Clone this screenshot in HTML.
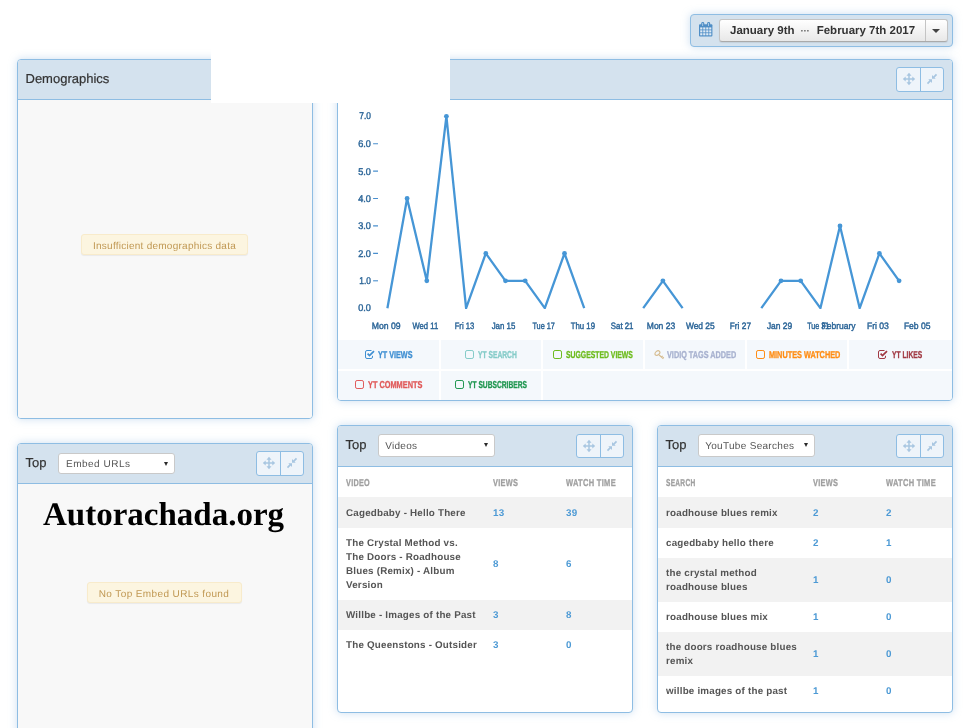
<!DOCTYPE html>
<html lang="en">
<head>
<meta charset="utf-8">
<title>Analytics Dashboard</title>
<style>
*{box-sizing:border-box;margin:0;padding:0}
html,body{width:972px;height:728px;overflow:hidden;background:#fff}
body{position:relative;text-rendering:geometricPrecision;font-family:"Liberation Sans",Arial,sans-serif;color:#333}
.panel{position:absolute;border:1px solid #8ebde3;border-radius:4px;background:#fff;box-shadow:0 0 9px rgba(120,170,215,.38)}
.panel .hd{position:absolute;left:0;top:0;right:0;height:40px;background:#d4e2ee;border-bottom:1px solid #8ebde3;border-radius:3px 3px 0 0}
.panel .bd{position:absolute;left:0;right:0;top:40px;bottom:0;border-radius:0 0 3px 3px;overflow:hidden}
.grey{background:#f8f8f8}
.title{position:absolute;left:7.500px;top:11px;-webkit-text-stroke:.2px;font-size:13px;line-height:16px;color:#333}
.sel{position:absolute;top:9px;height:21px;margin-left:-1px;background:#fff;border:1px solid #c9c9c9;border-radius:3px;font-size:10px;line-height:20px;padding:.5px 0 0 6.200px;color:#555;letter-spacing:.3px;white-space:nowrap}
.sel i{position:absolute;right:6.500px;top:7.500px;width:0;height:0;border-left:2.300px solid transparent;border-right:2.300px solid transparent;border-top:4.400px solid #2a2a2a}
.btns{position:absolute;right:8px;top:7px;width:48px;height:25px;border:1px solid #8ebde3;border-radius:3px;background:#eef4fa}
.btns:before{content:"";position:absolute;left:23px;top:0;bottom:0;width:1px;background:#8ebde3}
.btns svg{position:absolute;top:0;left:0}
.badge{position:absolute;height:21px;border:1px solid #f8ebcb;border-radius:3px;background:#fcf5e0;color:#c09853;font-size:10px;line-height:19px;padding-top:2px;text-align:center;letter-spacing:.25px;white-space:nowrap;box-shadow:0 1px 1px rgba(0,0,0,.06)}

.dbtn{position:absolute;left:28px;top:4px;width:229px;height:23px;border:1px solid #c4c4c4;border-bottom-color:#aaa;border-radius:3px;background:linear-gradient(#fff,#e8e8e8);font-weight:bold;font-size:11.5px;line-height:23px;color:#333;white-space:nowrap;box-shadow:0 1px 1px rgba(0,0,0,.08)}
.dbtn span{position:absolute;top:0}
.dbtn .d1{left:10px}
.dbtn .dots{left:80.500px;color:#666;font-size:10px;letter-spacing:-.3px}
.dbtn .d2{left:96.700px}
.dbtn .caretbox{right:0;top:0;width:22px;height:21px;border-left:1px solid #c4c4c4}
.dbtn .caretbox i{position:absolute;left:6px;top:8.500px;border:4.500px solid transparent;border-top:4.500px solid #444;border-bottom:0}

.panel .hd.tall{height:41px}
.hd.tall .btns{top:8px;height:24px}
.hd.tall .sel{top:8.300px;height:22.300px;padding-top:1.500px}
.hd.tall .sel i{top:8px}
.panel .bd.tall{top:41px}
.legend{position:absolute;left:0;top:240px;width:614px;height:60px;background:#f4f8fc}
.legend:before{content:"";position:absolute;left:0;right:0;top:29px;height:2px;background:#fff}
.legend .vs{position:absolute;width:2px;background:#fff;top:0}
.lg{position:absolute;font-size:10px;-webkit-text-stroke:.33px;line-height:12px;font-weight:bold;white-space:nowrap;transform-origin:0 50%;text-rendering:geometricPrecision}
.legend svg,.legend .lg{margin-top:-240px}
.tbl{position:absolute;left:0;top:0;right:0;font-size:9.800px;font-weight:bold;line-height:14px;letter-spacing:.21px;color:#555}
.tr{display:flex;height:30px}
.tr.odd{background:#f2f2f2}
.tr>div{padding:10px 0 0 8px;white-space:nowrap}
.tr .c1{width:147px}
.tr .c2{width:73px;color:#4d9ad5;align-self:center;padding-top:4px}
.tr .c3{width:74px;color:#4d9ad5;align-self:center;padding-top:4px}
.tr.th .c2,.tr.th .c3{color:#9f9f9f;align-self:auto;padding-top:10px}
.tr.f>.c1{padding-top:9.5px}
.tr.f>.c2,.tr.f>.c3{padding-top:3px}
.tr.g>.c1{padding-top:9px}
.tr.g>.c2,.tr.g>.c3{padding-top:2px}
.tr.th{color:#9f9f9f}
.cn{display:inline-block;-webkit-text-stroke:.3px;transform-origin:0 50%;letter-spacing:.4px;font-size:10px}
.wm{position:absolute;left:25px;top:11px;font-family:"Liberation Serif",serif;font-weight:bold;font-size:33px;line-height:40px;color:#000;white-space:nowrap}
</style>
</head>
<body>

<!-- date range bar -->
<div class="panel" id="datebar" style="left:690px;top:14px;width:263px;height:33px;background:#d4e2ee">
  <svg class="cal" width="14" height="15" viewBox="0 0 14 15" style="position:absolute;left:8px;top:7px"><g fill="#4f8ec6"><rect x="0" y="2.200" width="13.400" height="12.300" rx="1"/><rect x="2.300" y="0" width="2.900" height="4.600" rx="1.200"/><rect x="8.200" y="0" width="2.900" height="4.600" rx="1.200"/></g><g fill="#cfdfee"><rect x="3.400" y="1" width=".7" height="3"/><rect x="9.300" y="1" width=".7" height="3"/></g><g fill="#dfeaf4"><rect x="1.200" y="5.400" width="2.200" height="2.100"/><rect x="4.200" y="5.400" width="2.200" height="2.100"/><rect x="7.200" y="5.400" width="2.200" height="2.100"/><rect x="10.200" y="5.400" width="2.100" height="2.100"/><rect x="1.200" y="8.300" width="2.200" height="2.100"/><rect x="4.200" y="8.300" width="2.200" height="2.100"/><rect x="7.200" y="8.300" width="2.200" height="2.100"/><rect x="10.200" y="8.300" width="2.100" height="2.100"/><rect x="1.200" y="11.200" width="2.200" height="2.100"/><rect x="4.200" y="11.200" width="2.200" height="2.100"/><rect x="7.200" y="11.200" width="2.200" height="2.100"/><rect x="10.200" y="11.200" width="2.100" height="2.100"/></g></svg>
  <div class="dbtn"><span class="d1">January 9th</span><span class="dots">&middot;&middot;&middot;</span><span class="d2">February 7th 2017</span><span class="caretbox"><i></i></span></div>
</div>

<!-- Demographics -->
<div class="panel" id="demo" style="left:17px;top:59px;width:296px;height:360px">
  <div class="hd"><div class="title">Demographics</div></div>
  <div class="bd grey">
    <div class="badge" style="left:63px;top:134px;width:167px">Insufficient demographics data</div>
  </div>
</div>

<!-- Chart -->
<div class="panel" id="chart" style="left:337px;top:59px;width:616px;height:342px">
  <div class="hd"><div class="btns"><svg width="46" height="23" viewBox="0 0 46 23"><g fill="#a8c6e1" stroke="none"><rect x="11.25" y="6.5" width="1.5" height="9"/><rect x="7.5" y="10.25" width="9" height="1.5"/><path d="M12 4.8l2.5 2.9h-5zM12 17.2l2.500-2.900h-5zM5.800 11l2.900-2.500v5zM18.200 11l-2.900-2.500v5z"/><path d="M35 10.700V7.100l3.700 3.600zM35 11.300v3.600l-3.700-3.600z" transform="translate(0,0)"/></g><g stroke="#a8c6e1" stroke-width="1.700" fill="none"><path d="M36.600 9.300l2.900-2.900M33.400 12.700l-2.900 2.900"/></g></svg></div></div>
  <div class="bd">
<svg width="614" height="240" viewBox="0 0 614 240" style="position:absolute;left:0;top:0">
<defs><clipPath id="cp"><rect x="0" y="0" width="614" height="209.1"/></clipPath></defs>
<g font-family="Liberation Sans, Arial, sans-serif" font-size="9.800" fill="#2b6598" stroke="#2b6598" stroke-width=".42" text-rendering="geometricPrecision">
<text x="20.2" y="210.6" textLength="12.7" lengthAdjust="spacingAndGlyphs">0.0</text>
<text x="21.3" y="184.2" textLength="11.6" lengthAdjust="spacingAndGlyphs">1.0</text>
<text x="20.2" y="156.8" textLength="12.7" lengthAdjust="spacingAndGlyphs">2.0</text>
<text x="20.2" y="129.3" textLength="12.7" lengthAdjust="spacingAndGlyphs">3.0</text>
<text x="20.2" y="101.9" textLength="12.7" lengthAdjust="spacingAndGlyphs">4.0</text>
<text x="20.2" y="74.5" textLength="12.7" lengthAdjust="spacingAndGlyphs">5.0</text>
<text x="20.2" y="47.1" textLength="12.7" lengthAdjust="spacingAndGlyphs">6.0</text>
<text x="21.3" y="19.3" textLength="11.6" lengthAdjust="spacingAndGlyphs">7.0</text>
</g>
<g stroke="#4a8fce" stroke-width="1.100">
<line x1="35.100" x2="40" y1="180.8" y2="180.8"/>
<line x1="35.100" x2="40" y1="153.4" y2="153.4"/>
<line x1="35.100" x2="40" y1="125.9" y2="125.9"/>
<line x1="35.100" x2="40" y1="98.5" y2="98.5"/>
<line x1="35.100" x2="40" y1="71.1" y2="71.1"/>
<line x1="35.100" x2="40" y1="43.7" y2="43.7"/>
</g>
<g font-family="Liberation Sans, Arial, sans-serif" font-size="9.300" fill="#2b6598" stroke="#2b6598" stroke-width=".42" text-rendering="geometricPrecision">
<text x="33.7" y="228.500" textLength="28.8" lengthAdjust="spacingAndGlyphs">Mon 09</text>
<text x="74.5" y="228.500" textLength="25.7" lengthAdjust="spacingAndGlyphs">Wed 11</text>
<text x="116.7" y="228.500" textLength="19.5" lengthAdjust="spacingAndGlyphs">Fri 13</text>
<text x="153.7" y="228.500" textLength="23.6" lengthAdjust="spacingAndGlyphs">Jan 15</text>
<text x="194.4" y="228.500" textLength="22.5" lengthAdjust="spacingAndGlyphs">Tue 17</text>
<text x="232.7" y="228.500" textLength="24.3" lengthAdjust="spacingAndGlyphs">Thu 19</text>
<text x="272.8" y="228.500" textLength="22.7" lengthAdjust="spacingAndGlyphs">Sat 21</text>
<text x="308.8" y="228.500" textLength="28.4" lengthAdjust="spacingAndGlyphs">Mon 23</text>
<text x="347.9" y="228.500" textLength="28.8" lengthAdjust="spacingAndGlyphs">Wed 25</text>
<text x="391.8" y="228.500" textLength="21.2" lengthAdjust="spacingAndGlyphs">Fri 27</text>
<text x="428.9" y="228.500" textLength="25.3" lengthAdjust="spacingAndGlyphs">Jan 29</text>
<text x="469.2" y="228.500" textLength="22.2" lengthAdjust="spacingAndGlyphs">Tue 31</text>
<text x="483.6" y="228.500" textLength="34.0" lengthAdjust="spacingAndGlyphs">February</text>
<text x="528.9" y="228.500" textLength="22.0" lengthAdjust="spacingAndGlyphs">Fri 03</text>
<text x="565.9" y="228.500" textLength="26.6" lengthAdjust="spacingAndGlyphs">Feb 05</text>
</g>
<g clip-path="url(#cp)"><g fill="none" stroke="#4696d6" stroke-width="2.300" stroke-linejoin="round" stroke-linecap="butt">
<path d="M49.4 208.2L69.1 98.5L88.8 180.8L108.4 16.3L128.1 208.2L147.8 153.4L167.5 180.8L187.2 180.8L206.8 208.2L226.5 153.4L246.2 208.2"/>
<path d="M305.2 208.2L324.9 180.8L344.6 208.2"/>
<path d="M423.3 208.2L443.0 180.8L462.7 180.8L482.4 208.2L502.0 125.9L521.7 208.2L541.4 153.4L561.1 180.8"/>
</g><g fill="#4696d6">
<circle cx="69.1" cy="98.5" r="2.400"/>
<circle cx="88.8" cy="180.8" r="2.400"/>
<circle cx="108.4" cy="16.3" r="2.400"/>
<circle cx="147.8" cy="153.4" r="2.400"/>
<circle cx="167.5" cy="180.8" r="2.400"/>
<circle cx="187.2" cy="180.8" r="2.400"/>
<circle cx="226.5" cy="153.4" r="2.400"/>
<circle cx="324.9" cy="180.8" r="2.400"/>
<circle cx="443.0" cy="180.8" r="2.400"/>
<circle cx="462.7" cy="180.8" r="2.400"/>
<circle cx="502.0" cy="125.9" r="2.400"/>
<circle cx="541.4" cy="153.4" r="2.400"/>
<circle cx="561.1" cy="180.8" r="2.400"/>
</g></g>
</svg>
<div class="legend"><i class="vs" style="left:101px;height:60px"></i><i class="vs" style="left:203px;height:60px"></i><i class="vs" style="left:305px;height:29px"></i><i class="vs" style="left:407px;height:29px"></i><i class="vs" style="left:509px;height:29px"></i>
<svg width="12" height="11" viewBox="0 0 12 11" style="position:absolute;left:27px;top:250px"><path d="M7.500 5.800V7a1.500 1.500 0 0 1-1.500 1.500H2A1.500 1.500 0 0 1 .5 7V2A1.500 1.500 0 0 1 2 .5H6.500" fill="none" stroke="#3f8fd2" stroke-width="1"/><path d="M2.600 3.700l1.900 1.900 4.500-4.500" fill="none" stroke="#3f8fd2" stroke-width="1.700"/></svg><span class="lg" style="left:40.0px;top:249.7px;color:#3f8fd2;transform:scaleX(0.722)">YT VIEWS</span>
<svg width="11" height="11" viewBox="0 0 11 11" style="position:absolute;left:127px;top:250px"><rect x=".5" y=".5" width="8" height="8" rx="1.600" fill="none" stroke="#84cbc8" stroke-width="1"/></svg><span class="lg" style="left:140.0px;top:249.7px;color:#84cbc8;transform:scaleX(0.671)">YT SEARCH</span>
<svg width="11" height="11" viewBox="0 0 11 11" style="position:absolute;left:215px;top:250px"><rect x=".5" y=".5" width="8" height="8" rx="1.600" fill="none" stroke="#6cbb1c" stroke-width="1"/></svg><span class="lg" style="left:228.4px;top:249.7px;color:#6cbb1c;transform:scaleX(0.684)">SUGGESTED VIEWS</span>
<svg width="12" height="11" viewBox="0 0 12 11" style="position:absolute;left:316px;top:250px"><g fill="none" stroke="#d6bd92" stroke-width="1.200"><ellipse cx="3.400" cy="3.100" rx="2.700" ry="1.900" transform="rotate(-40 3.400 3.100)"/><path d="M5.100 5l4.300 3.800M7.500 7l1.200-1.200M8.800 8.200l1-1"/></g></svg><span class="lg" style="left:329.0px;top:249.7px;color:#a7b1cf;transform:scaleX(0.728)">VIDIQ TAGS ADDED</span>
<svg width="11" height="11" viewBox="0 0 11 11" style="position:absolute;left:418px;top:250px"><rect x=".5" y=".5" width="8" height="8" rx="1.600" fill="none" stroke="#ff8c12" stroke-width="1"/></svg><span class="lg" style="left:430.7px;top:249.7px;color:#ff8c12;transform:scaleX(0.731)">MINUTES WATCHED</span>
<svg width="12" height="11" viewBox="0 0 12 11" style="position:absolute;left:540px;top:250px"><path d="M7.500 5.800V7a1.500 1.500 0 0 1-1.500 1.500H2A1.500 1.500 0 0 1 .5 7V2A1.500 1.500 0 0 1 2 .5H6.500" fill="none" stroke="#a13a44" stroke-width="1"/><path d="M2.600 3.700l1.900 1.900 4.500-4.500" fill="none" stroke="#a13a44" stroke-width="1.700"/></svg><span class="lg" style="left:553.7px;top:249.7px;color:#a13a44;transform:scaleX(0.671)">YT LIKES</span>
<svg width="11" height="11" viewBox="0 0 11 11" style="position:absolute;left:17px;top:280px"><rect x=".5" y=".5" width="8" height="8" rx="1.600" fill="none" stroke="#e05a5a" stroke-width="1"/></svg><span class="lg" style="left:30.0px;top:279.7px;color:#e05a5a;transform:scaleX(0.736)">YT COMMENTS</span>
<svg width="11" height="11" viewBox="0 0 11 11" style="position:absolute;left:117px;top:280px"><rect x=".5" y=".5" width="8" height="8" rx="1.600" fill="none" stroke="#1f9650" stroke-width="1"/></svg><span class="lg" style="left:130.0px;top:279.7px;color:#1f9650;transform:scaleX(0.667)">YT SUBSCRIBERS</span>
</div>
  </div>
</div>

<!-- white overlay -->
<div style="position:absolute;left:211px;top:44px;width:239px;height:59px;background:#fff"></div>

<!-- Embed URLs -->
<div class="panel" id="embed" style="left:17px;top:443px;width:296px;height:300px">
  <div class="hd"><div class="title">Top</div><div class="sel" style="left:41px;width:117px;letter-spacing:.5px;padding-left:7px">Embed URLs<i></i></div><div class="btns"><svg width="46" height="23" viewBox="0 0 46 23"><g fill="#a8c6e1" stroke="none"><rect x="11.25" y="6.5" width="1.5" height="9"/><rect x="7.5" y="10.25" width="9" height="1.5"/><path d="M12 4.8l2.5 2.9h-5zM12 17.2l2.500-2.900h-5zM5.800 11l2.900-2.500v5zM18.200 11l-2.900-2.500v5z"/><path d="M35 10.700V7.100l3.700 3.600zM35 11.300v3.600l-3.700-3.600z" transform="translate(0,0)"/></g><g stroke="#a8c6e1" stroke-width="1.700" fill="none"><path d="M36.600 9.300l2.900-2.900M33.400 12.700l-2.900 2.900"/></g></svg></div></div>
  <div class="bd grey">
    <div class="wm">Autorachada.org</div>
    <div class="badge" style="left:68.500px;top:98px;width:155px;letter-spacing:.39px">No Top Embed URLs found</div>
  </div>
</div>

<!-- Videos -->
<div class="panel" id="videos" style="left:337px;top:425px;width:296px;height:288px">
  <div class="hd tall"><div class="title">Top</div><div class="sel" style="left:41px;width:117px">Videos<i></i></div><div class="btns"><svg width="46" height="23" viewBox="0 0 46 23"><g fill="#a8c6e1" stroke="none"><rect x="11.25" y="6.5" width="1.5" height="9"/><rect x="7.5" y="10.25" width="9" height="1.5"/><path d="M12 4.8l2.5 2.9h-5zM12 17.2l2.500-2.900h-5zM5.800 11l2.900-2.500v5zM18.200 11l-2.900-2.500v5z"/><path d="M35 10.700V7.100l3.700 3.600zM35 11.300v3.600l-3.700-3.600z" transform="translate(0,0)"/></g><g stroke="#a8c6e1" stroke-width="1.700" fill="none"><path d="M36.600 9.300l2.900-2.900M33.400 12.700l-2.900 2.900"/></g></svg></div></div>
  <div class="bd tall">
<div class="tbl">
<div class="tr th"><div class="c1"><span class="cn" style="transform:scaleX(.725)">VIDEO</span></div><div class="c2"><span class="cn" style="transform:scaleX(.737)">VIEWS</span></div><div class="c3"><span class="cn" style="transform:scaleX(.75)">WATCH TIME</span></div></div>
<div class="tr odd" style="height:30.5px"><div class="c1">Cagedbaby - Hello There</div><div class="c2">13</div><div class="c3">39</div></div>
<div class="tr f" style="height:72.5px"><div class="c1">The Crystal Method vs. <br>The Doors - Roadhouse <br>Blues (Remix) - Album <br>Version</div><div class="c2">8</div><div class="c3">6</div></div>
<div class="tr odd g" style="height:30px"><div class="c1">Willbe - Images of the Past</div><div class="c2">3</div><div class="c3">8</div></div>
<div class="tr g" style="height:30px"><div class="c1">The Queenstons - Outsider</div><div class="c2">3</div><div class="c3">0</div></div>
</div>
  </div>
</div>

<!-- Searches -->
<div class="panel" id="searches" style="left:657px;top:425px;width:296px;height:288px">
  <div class="hd tall"><div class="title">Top</div><div class="sel" style="left:41px;width:117px">YouTube Searches<i></i></div><div class="btns"><svg width="46" height="23" viewBox="0 0 46 23"><g fill="#a8c6e1" stroke="none"><rect x="11.25" y="6.5" width="1.5" height="9"/><rect x="7.5" y="10.25" width="9" height="1.5"/><path d="M12 4.8l2.5 2.9h-5zM12 17.2l2.500-2.900h-5zM5.800 11l2.900-2.500v5zM18.200 11l-2.900-2.500v5z"/><path d="M35 10.700V7.100l3.700 3.600zM35 11.300v3.600l-3.700-3.600z" transform="translate(0,0)"/></g><g stroke="#a8c6e1" stroke-width="1.700" fill="none"><path d="M36.600 9.300l2.900-2.900M33.400 12.700l-2.900 2.900"/></g></svg></div></div>
  <div class="bd tall">
<div class="tbl">
<div class="tr th"><div class="c1"><span class="cn" style="transform:scaleX(.66)">SEARCH</span></div><div class="c2"><span class="cn" style="transform:scaleX(.737)">VIEWS</span></div><div class="c3"><span class="cn" style="transform:scaleX(.75)">WATCH TIME</span></div></div>
<div class="tr odd" style="height:30.5px"><div class="c1">roadhouse blues remix</div><div class="c2">2</div><div class="c3">2</div></div>
<div class="tr f" style="height:30px"><div class="c1">cagedbaby hello there</div><div class="c2">2</div><div class="c3">1</div></div>
<div class="tr odd f" style="height:44px"><div class="c1">the crystal method <br>roadhouse blues</div><div class="c2">1</div><div class="c3">0</div></div>
<div class="tr f" style="height:30px"><div class="c1">roadhouse blues mix</div><div class="c2">1</div><div class="c3">0</div></div>
<div class="tr odd f" style="height:44px"><div class="c1">the doors roadhouse blues <br>remix</div><div class="c2">1</div><div class="c3">0</div></div>
<div class="tr f" style="height:30px"><div class="c1">willbe images of the past</div><div class="c2">1</div><div class="c3">0</div></div>
</div>
  </div>
</div>

</body>
</html>
